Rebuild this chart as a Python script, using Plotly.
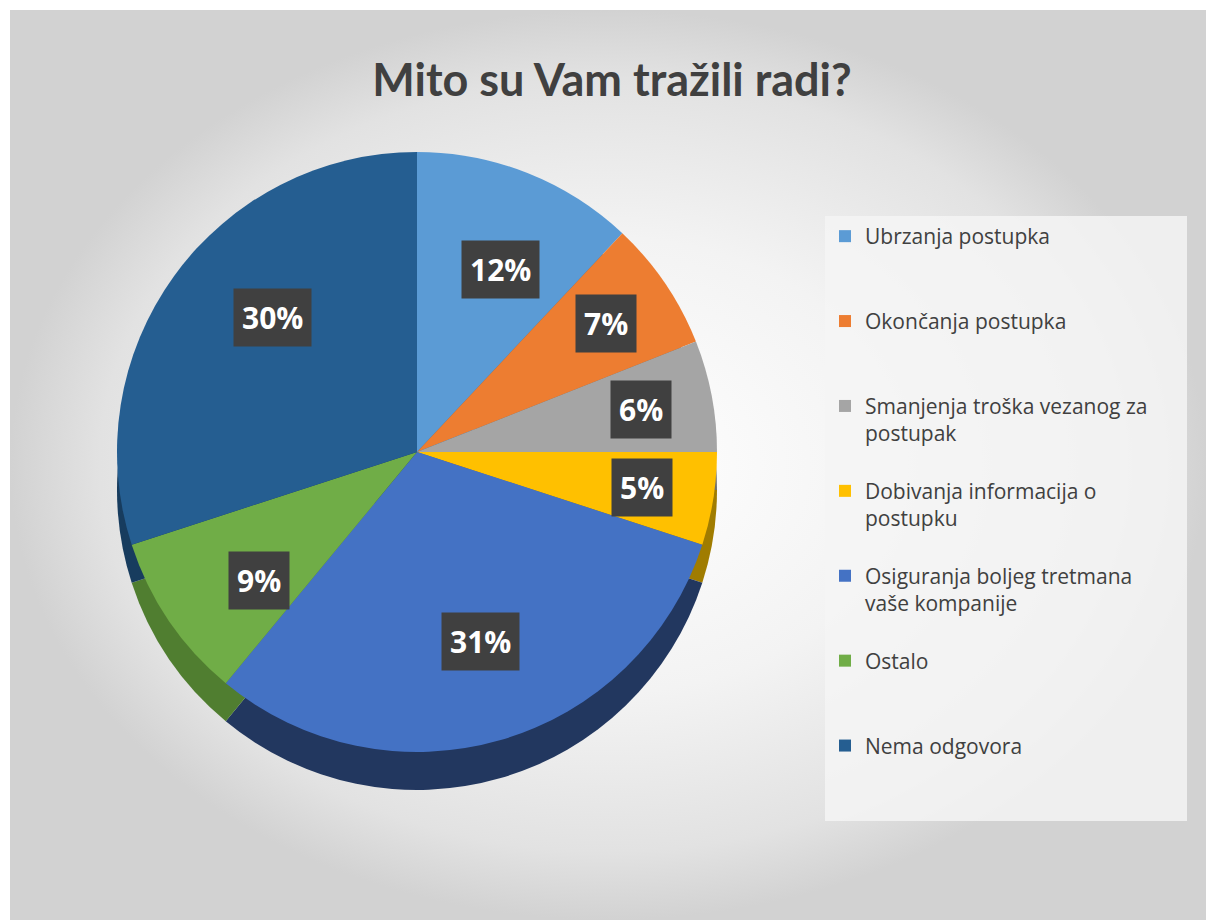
import math
import plotly.graph_objects as go

title = "Mito su Vam tražili radi?"
categories = [
    "Ubrzanja postupka",
    "Okončanja postupka",
    "Smanjenja troška vezanog za<br>postupak",
    "Dobivanja informacija o<br>postupku",
    "Osiguranja boljeg tretmana<br>vaše kompanije",
    "Ostalo",
    "Nema odgovora",
]
values = [12, 7, 6, 5, 31, 9, 30]
colors = ["#5B9BD5", "#ED7D31", "#A5A5A5", "#FFC000", "#4472C4", "#70AD47", "#255E91"]
side_colors = ["#3A6D9C", "#A8561F", "#6E6E6E", "#A07C00", "#22375F", "#507E30", "#173C5E"]

W, H = 1206, 920
CX, CY, R = 417, 452, 300
DEPTH = 38

# pad every legend entry to three lines (evenly spaced entries); the blank
# padding line of the first entry is wide so the legend box spans the panel
legend_labels = []
for i, c in enumerate(categories):
    n = c.count("<br>") + 1
    pad = "&nbsp;" * (58 if i == 0 else 1)
    legend_labels.append(c + ("<br>" + pad) * (3 - n))


def dom(cx, cy, r):
    return dict(x=[(cx - r) / W, (cx + r) / W], y=[1 - (cy + r) / H, 1 - (cy - r) / H])


fig = go.Figure()

# background panel with radial gradient
x0 = 10 / W
y1 = 1 - 10 / H
fig.add_trace(go.Scatter(
    x=[x0, 1, 1, x0, x0], y=[0, 0, y1, y1, 0],
    fill="toself", mode="lines", line=dict(width=0),
    fillgradient=dict(type="radial",
                      colorscale=[[0, "#FFFFFF"], [0.5, "#F3F3F3"], [0.85, "#E2E2E2"], [1, "#D2D2D2"]]),
    showlegend=False, hoverinfo="skip",
))

# side (depth) of the pie
fig.add_trace(go.Pie(
    labels=legend_labels, values=values, sort=False, direction="clockwise", rotation=0,
    marker=dict(colors=side_colors, line=dict(width=0)),
    textinfo="none", showlegend=False, hoverinfo="skip",
    domain=dom(CX, CY + DEPTH, R),
))
# top face
fig.add_trace(go.Pie(
    labels=legend_labels, values=values, sort=False, direction="clockwise", rotation=0,
    marker=dict(colors=colors, line=dict(width=0)),
    textinfo="none", showlegend=True,
    domain=dom(CX, CY, R),
))

# data labels in dark boxes, positioned from the slice angles
total = sum(values)
cum = 0
for v in values:
    mid = (cum + v / 2) / total * 2 * math.pi
    cum += v
    px = CX + 0.76 * R * math.sin(mid)
    py = CY - 0.76 * R * math.cos(mid)
    fig.add_annotation(
        x=px / W, y=1 - py / H, xref="paper", yref="paper",
        text=f"<b>{round(v / total * 100)}%</b>", showarrow=False,
        font=dict(family="Open Sans", size=30, color="white"),
        bgcolor="#404040", borderpad=8,
    )

fig.update_layout(
    width=W, height=H,
    margin=dict(l=0, r=0, t=0, b=0),
    paper_bgcolor="white", plot_bgcolor="rgba(0,0,0,0)",
    xaxis=dict(visible=False, range=[0, 1], domain=[0, 1], fixedrange=True),
    yaxis=dict(visible=False, range=[0, 1], domain=[0, 1], fixedrange=True),
    title=dict(text=f"<b>{title}</b>", x=612 / W, xanchor="center",
               y=1 - 80 / H, yanchor="middle",
               font=dict(family="Lato", size=45, color="#404040")),
    legend=dict(x=825 / W, y=1 - 216 / H, xanchor="left", yanchor="top",
                bgcolor="rgba(245,245,245,0.85)", borderwidth=0,
                font=dict(family="Open Sans", size=21, color="#404040"),
                valign="top", itemwidth=30, tracegroupgap=0),
    showlegend=True,
)

fig.write_html("out.html", config={"displayModeBar": False},
               post_script="document.body.style.margin='0';document.body.style.overflow='hidden';")
